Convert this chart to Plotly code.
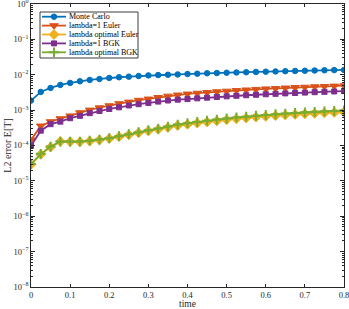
import plotly.graph_objects as go

time = [i * 0.025 for i in range(33)]

monte_carlo = [1.86e-3, 3.27e-3, 4.24e-3, 5.15e-3, 5.87e-3, 6.55e-3, 7.13e-3, 7.6e-3, 8.13e-3,
               8.5e-3, 8.85e-3, 9.2e-3, 9.6e-3, 9.8e-3, 1.0e-2, 1.02e-2, 1.05e-2, 1.07e-2, 1.1e-2,
               1.12e-2, 1.14e-2, 1.16e-2, 1.18e-2, 1.2e-2, 1.22e-2, 1.24e-2, 1.26e-2, 1.28e-2,
               1.3e-2, 1.32e-2, 1.34e-2, 1.355e-2, 1.37e-2]

euler_1 = [1.44e-4, 3.58e-4, 4.73e-4, 5.75e-4, 6.9e-4, 8.5e-4, 1.01e-3, 1.17e-3, 1.34e-3,
           1.53e-3, 1.7e-3, 1.91e-3, 2.07e-3, 2.29e-3, 2.5e-3, 2.69e-3, 2.87e-3, 3.02e-3, 3.17e-3,
           3.32e-3, 3.46e-3, 3.6e-3, 3.74e-3, 3.87e-3, 4.0e-3, 4.12e-3, 4.25e-3, 4.37e-3,
           4.48e-3, 4.6e-3, 4.7e-3, 4.81e-3, 4.92e-3]

euler_opt = [2.9e-5, 5.6e-5, 9.0e-5, 1.3e-4, 1.28e-4, 1.27e-4, 1.33e-4, 1.43e-4, 1.57e-4,
             1.77e-4, 2.0e-4, 2.28e-4, 2.58e-4, 2.85e-4, 3.22e-4, 3.65e-4, 3.98e-4, 4.3e-4, 4.63e-4,
             4.97e-4, 5.32e-4, 5.67e-4, 5.98e-4, 6.33e-4, 6.65e-4, 6.95e-4, 7.25e-4, 7.52e-4,
             7.82e-4, 8.08e-4, 8.35e-4, 8.58e-4, 8.8e-4]

bgk_1 = [9.8e-5, 2.63e-4, 4.0e-4, 4.73e-4, 5.9e-4, 6.9e-4, 8.2e-4, 9.5e-4, 1.08e-3,
         1.2e-3, 1.35e-3, 1.47e-3, 1.6e-3, 1.74e-3, 1.87e-3, 1.98e-3, 2.05e-3, 2.15e-3, 2.25e-3,
         2.35e-3, 2.45e-3, 2.54e-3, 2.63e-3, 2.72e-3, 2.81e-3, 2.89e-3, 2.97e-3, 3.05e-3,
         3.13e-3, 3.21e-3, 3.29e-3, 3.37e-3, 3.46e-3]

bgk_opt = [3.0e-5, 5.8e-5, 9.3e-5, 1.29e-4, 1.29e-4, 1.29e-4, 1.37e-4, 1.47e-4, 1.61e-4,
           1.83e-4, 2.09e-4, 2.38e-4, 2.71e-4, 3.0e-4, 3.42e-4, 3.9e-4, 4.27e-4, 4.64e-4, 5.02e-4,
           5.4e-4, 5.8e-4, 6.2e-4, 6.55e-4, 6.95e-4, 7.3e-4, 7.65e-4, 8.0e-4, 8.3e-4,
           8.65e-4, 8.95e-4, 9.25e-4, 9.5e-4, 9.75e-4]

series_names = ["Monte Carlo", "lambda=1 Euler", "lambda optimal Euler", "lambda=1 BGK", "lambda optimal BGK"]
series_values = [monte_carlo, euler_1, euler_opt, bgk_1, bgk_opt]

xtick_vals = [0, 0.1, 0.2, 0.3, 0.4, 0.5, 0.6, 0.7, 0.8]
xtick_text = ["0", "0.1", "0.2", "0.3", "0.4", "0.5", "0.6", "0.7", "0.8"]
ytick_exps = [0, -1, -2, -3, -4, -5, -6, -7, -8]

# styles
colors = ["#0072BD", "#D95319", "#EDB120", "#7E2F8E", "#77AC30"]
symbols = ["circle", "triangle-down", "diamond", "square-x", "cross-thin"]
msizes = [5.5, 7.5, 7.5, 5, 7]
mlw = [1, 1, 1, 1, 2]

font_family = "Liberation Serif, DejaVu Serif, serif"
axis_color = "#262626"

W, H = 349, 309
ML, MR, MT, MB = 31, 5, 4, 22
PW, PH = W - ML - MR, H - MT - MB

fig = go.Figure()
for name, vals, c, s, ms, lw in zip(series_names, series_values, colors, symbols, msizes, mlw):
    fig.add_trace(go.Scatter(
        x=time, y=vals, name=name, mode="lines+markers", showlegend=False,
        line=dict(color=c, width=1.8),
        marker=dict(symbol=s, size=ms, color=c, line=dict(color=c, width=lw)),
    ))

# custom compact legend drawn on an overlay axis measured in pixels from plot top-left
leg_left, leg_right, leg_top, leg_bottom = 9, 107, 8, 54
row_y = [12.7, 21.6, 30.5, 39.4, 48.3]
sample_x0, sample_x1, text_x = 11, 35, 35.5

shapes = [dict(type="rect", xref="x2", yref="y2", x0=leg_left, x1=leg_right,
               y0=leg_top, y1=leg_bottom, line=dict(color=axis_color, width=0.9),
               fillcolor="white", layer="below")]
annotations = []
for name, c, s, ms, lw, ry in zip(series_names, colors, symbols, msizes, mlw, row_y):
    fig.add_trace(go.Scatter(
        x=[sample_x0, (sample_x0 + sample_x1) / 2, sample_x1], y=[ry, ry, ry],
        xaxis="x2", yaxis="y2", mode="lines+markers", showlegend=False,
        hoverinfo="skip", cliponaxis=False,
        line=dict(color=c, width=1.8),
        marker=dict(symbol=s, size=ms, color=c, opacity=[0, 1, 0], line=dict(color=c, width=lw)),
    ))
    annotations.append(dict(x=text_x, y=ry, xref="x2", yref="y2", text=name, showarrow=False,
                            xanchor="left", yanchor="middle",
                            font=dict(family=font_family, size=8, color="black")))

fig.update_layout(
    width=W, height=H,
    margin=dict(l=ML, r=MR, t=MT, b=MB),
    paper_bgcolor="white", plot_bgcolor="white",
    font=dict(family=font_family, size=9, color=axis_color),
    showlegend=False,
    shapes=shapes,
    annotations=annotations,
    xaxis2=dict(overlaying="x", range=[0, PW], visible=False, domain=[0, 1]),
    yaxis2=dict(overlaying="y", range=[PH, 0], visible=False, domain=[0, 1]),
)
fig.update_layout(xaxis=dict(
    range=[0, 0.8], tickvals=xtick_vals, ticktext=xtick_text,
    ticks="inside", ticklen=3, tickcolor=axis_color, tickwidth=0.8,
    showline=True, linecolor=axis_color, linewidth=0.8, mirror="allticks",
    showgrid=False, zeroline=False, automargin=False, ticklabeloverflow="allow",
    title=dict(text="time", standoff=0, font=dict(family=font_family, size=9.5)),
    tickfont=dict(family=font_family, size=8.5),
))
fig.update_layout(yaxis=dict(
    type="log", range=[-8, 0],
    tickvals=[10 ** e for e in ytick_exps],
    ticktext=["10<sup>%d</sup>" % e if e == 0 else "10<sup>\u2212%d</sup>" % (-e) for e in ytick_exps],
    ticks="inside", ticklen=4, tickcolor=axis_color, tickwidth=0.8,
    minor=dict(ticks="inside", ticklen=2, tickcolor=axis_color, dtick="D1", showgrid=False),
    showline=True, linecolor=axis_color, linewidth=0.8, mirror="allticks",
    showgrid=False, zeroline=False, automargin=False, ticklabeloverflow="allow",
    title=dict(text="L2 error E[T]", standoff=0, font=dict(family=font_family, size=10)),
    tickfont=dict(family=font_family, size=8.5),
))

fig.write_html("out.html", config={"displayModeBar": False},
               post_script="document.body.style.margin='0';document.body.style.overflow='hidden';")
